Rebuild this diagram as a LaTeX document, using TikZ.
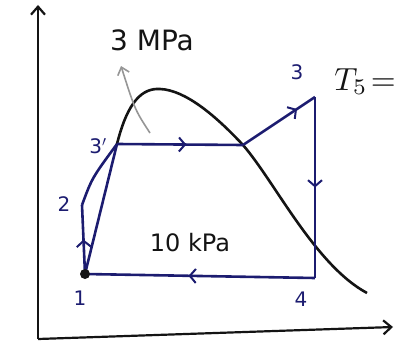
\documentclass[tikz,border=0pt]{standalone}
\usepackage{fontspec}
\setmainfont{DejaVu Sans}
\usepackage{tikz}
\usetikzlibrary{arrows.meta,positioning,calc,decorations.markings}
\usepackage{xcolor}
\definecolor{cycblue}{RGB}{28,28,112}
\definecolor{penblack}{RGB}{20,20,20}
\definecolor{pengray}{RGB}{150,150,150}

\tikzset{
  axisline/.style={draw=penblack, line width=2.2pt, -{Straight Barb[length=8pt,width=14pt]}},
  domeline/.style={draw=penblack, line width=2.6pt},
  cycline/.style={draw=cycblue, line width=2.6pt},
  midarrow/.style={postaction={decorate}, decoration={markings,
    mark=at position #1 with {\arrow[cycblue,line width=2pt]{Straight Barb[length=6pt,width=14pt]}}}},
  statelabel/.style={text=cycblue, font=\fontsize{20}{24}\selectfont},
  penlabel/.style={text=penblack}
}

\begin{document}
\begin{tikzpicture}[x=1pt, y=-1pt]
\useasboundingbox (0,0) rectangle (398,361);

% axes
\coordinate (o) at (38,339);
\coordinate (ytop) at (38,5);
\coordinate (xend) at (393,327);
\draw[axisline] (o) -- (ytop);
\draw[axisline] (o) -- (xend);

% states
\coordinate (s1) at (85,274);
\coordinate (s2) at (82,205);
\coordinate (s3p) at (117,144);
\coordinate (sg) at (243,145);
\coordinate (s3) at (315,97);
\coordinate (s4) at (315,278);

% saturation dome
\draw[domeline] (117,144) .. controls (128,100) and (143,88) .. (160,89)
  .. controls (185,90) and (215,115) .. (243,145)
  .. controls (275,182) and (315,265) .. (367,293);

% cycle
\draw[cycline, midarrow=0.55] (s3p) -- (sg);
\draw[cycline, midarrow=0.75] (sg) -- (s3);
\draw[cycline, midarrow=0.5] (s3) -- (s4);
\draw[cycline, midarrow=0.55] (s4) -- (s1);
\draw[cycline] (s1) -- (s3p);
\draw[cycline, midarrow=0.5] (s1) -- (s2);
\draw[cycline] (s2) .. controls (92,178) .. (s3p);
\fill[penblack] (s1) circle (5pt);

% pressure note
\node[penlabel, font=\fontsize{28}{32}\selectfont] (pmax) at (152,40) {3 MPa};
\draw[pengray, line width=1.6pt, -{Straight Barb[length=7pt,width=12pt]}] (150,133) .. controls (135,110) .. (121,66);
\node[penlabel, font=\fontsize{24}{28}\selectfont] (pmin) at (190,243) {10 kPa};

% state labels
\node[statelabel] (l1) at (80,298) {1};
\node[statelabel] (l2) at (64,204) {2};
\node[statelabel] (l3p) at (98,146) {3$'$};
\node[statelabel] (l3) at (297,72) {3};
\node[statelabel] (l4) at (301,299) {4};
\node[penlabel, anchor=north east, inner sep=0pt] (ts) at (396,68) {\scalebox{3.2}{$T_5\!=$}};
\end{tikzpicture}
\end{document}
